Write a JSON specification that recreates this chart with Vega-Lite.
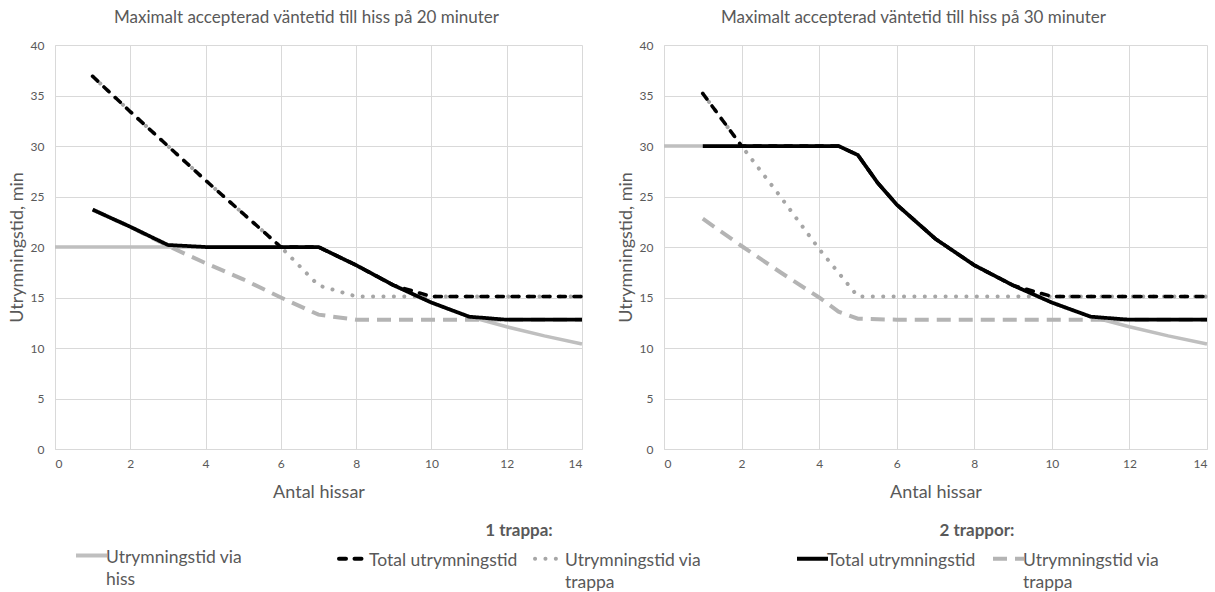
{
  "$schema": "https://vega.github.io/schema/vega-lite/v6.json",
  "autosize": {"type": "pad"},
  "padding": {"left": 8, "top": 9, "right": 0, "bottom": 0},
  "background": "white",
  "data": {"values": [
    {"p":"20","s":"hiss","x":0,"y":20},{"p":"20","s":"hiss","x":1,"y":20},{"p":"20","s":"hiss","x":2,"y":20},{"p":"20","s":"hiss","x":3,"y":20},{"p":"20","s":"hiss","x":4,"y":20},{"p":"20","s":"hiss","x":5,"y":20},{"p":"20","s":"hiss","x":6,"y":20},{"p":"20","s":"hiss","x":7,"y":20},{"p":"20","s":"hiss","x":8,"y":18.2},{"p":"20","s":"hiss","x":9,"y":16.2},{"p":"20","s":"hiss","x":10,"y":14.5},{"p":"20","s":"hiss","x":11,"y":13.1},{"p":"20","s":"hiss","x":12,"y":12.1},{"p":"20","s":"hiss","x":13,"y":11.2},{"p":"20","s":"hiss","x":14,"y":10.4},
    {"p":"20","s":"t1tot","x":1,"y":36.9},{"p":"20","s":"t1tot","x":2,"y":33.4},{"p":"20","s":"t1tot","x":3,"y":30},{"p":"20","s":"t1tot","x":4,"y":26.6},{"p":"20","s":"t1tot","x":5,"y":23.3},{"p":"20","s":"t1tot","x":6,"y":20},{"p":"20","s":"t1tot","x":7,"y":20},{"p":"20","s":"t1tot","x":8,"y":18.2},{"p":"20","s":"t1tot","x":9,"y":16.2},{"p":"20","s":"t1tot","x":10,"y":15.1},{"p":"20","s":"t1tot","x":11,"y":15.1},{"p":"20","s":"t1tot","x":12,"y":15.1},{"p":"20","s":"t1tot","x":13,"y":15.1},{"p":"20","s":"t1tot","x":14,"y":15.1},
    {"p":"20","s":"t1tr","x":1,"y":36.9},{"p":"20","s":"t1tr","x":2,"y":33.4},{"p":"20","s":"t1tr","x":3,"y":30},{"p":"20","s":"t1tr","x":4,"y":26.6},{"p":"20","s":"t1tr","x":5,"y":23.3},{"p":"20","s":"t1tr","x":6,"y":20},{"p":"20","s":"t1tr","x":7,"y":16.2},{"p":"20","s":"t1tr","x":8,"y":15.1},{"p":"20","s":"t1tr","x":9,"y":15.1},{"p":"20","s":"t1tr","x":10,"y":15.1},{"p":"20","s":"t1tr","x":11,"y":15.1},{"p":"20","s":"t1tr","x":12,"y":15.1},{"p":"20","s":"t1tr","x":13,"y":15.1},{"p":"20","s":"t1tr","x":14,"y":15.1},
    {"p":"20","s":"t2tot","x":1,"y":23.7},{"p":"20","s":"t2tot","x":2,"y":22},{"p":"20","s":"t2tot","x":3,"y":20.2},{"p":"20","s":"t2tot","x":4,"y":20},{"p":"20","s":"t2tot","x":5,"y":20},{"p":"20","s":"t2tot","x":6,"y":20},{"p":"20","s":"t2tot","x":7,"y":20},{"p":"20","s":"t2tot","x":8,"y":18.2},{"p":"20","s":"t2tot","x":9,"y":16.2},{"p":"20","s":"t2tot","x":10,"y":14.5},{"p":"20","s":"t2tot","x":11,"y":13.1},{"p":"20","s":"t2tot","x":12,"y":12.8},{"p":"20","s":"t2tot","x":13,"y":12.8},{"p":"20","s":"t2tot","x":14,"y":12.8},
    {"p":"20","s":"t2tr","x":1,"y":23.7},{"p":"20","s":"t2tr","x":2,"y":22},{"p":"20","s":"t2tr","x":3,"y":20.1},{"p":"20","s":"t2tr","x":4,"y":18.4},{"p":"20","s":"t2tr","x":5,"y":16.8},{"p":"20","s":"t2tr","x":6,"y":15},{"p":"20","s":"t2tr","x":7,"y":13.3},{"p":"20","s":"t2tr","x":8,"y":12.8},{"p":"20","s":"t2tr","x":9,"y":12.8},{"p":"20","s":"t2tr","x":10,"y":12.8},{"p":"20","s":"t2tr","x":11,"y":12.8},{"p":"20","s":"t2tr","x":12,"y":12.8},{"p":"20","s":"t2tr","x":13,"y":12.8},{"p":"20","s":"t2tr","x":14,"y":12.8},
    {"p":"30","s":"hiss","x":0,"y":30},{"p":"30","s":"hiss","x":1,"y":30},{"p":"30","s":"hiss","x":2,"y":30},{"p":"30","s":"hiss","x":3,"y":30},{"p":"30","s":"hiss","x":4,"y":30},{"p":"30","s":"hiss","x":4.5,"y":30},{"p":"30","s":"hiss","x":5,"y":29.1},{"p":"30","s":"hiss","x":5.5,"y":26.4},{"p":"30","s":"hiss","x":6,"y":24.2},{"p":"30","s":"hiss","x":7,"y":20.8},{"p":"30","s":"hiss","x":8,"y":18.2},{"p":"30","s":"hiss","x":9,"y":16.2},{"p":"30","s":"hiss","x":10,"y":14.5},{"p":"30","s":"hiss","x":11,"y":13.1},{"p":"30","s":"hiss","x":12,"y":12.1},{"p":"30","s":"hiss","x":13,"y":11.2},{"p":"30","s":"hiss","x":14,"y":10.4},
    {"p":"30","s":"t1tot","x":1,"y":35.2},{"p":"30","s":"t1tot","x":2,"y":30},{"p":"30","s":"t1tot","x":3,"y":30},{"p":"30","s":"t1tot","x":4,"y":30},{"p":"30","s":"t1tot","x":4.5,"y":30},{"p":"30","s":"t1tot","x":5,"y":29.1},{"p":"30","s":"t1tot","x":5.5,"y":26.4},{"p":"30","s":"t1tot","x":6,"y":24.2},{"p":"30","s":"t1tot","x":7,"y":20.8},{"p":"30","s":"t1tot","x":8,"y":18.2},{"p":"30","s":"t1tot","x":9,"y":16.2},{"p":"30","s":"t1tot","x":10,"y":15.1},{"p":"30","s":"t1tot","x":11,"y":15.1},{"p":"30","s":"t1tot","x":12,"y":15.1},{"p":"30","s":"t1tot","x":13,"y":15.1},{"p":"30","s":"t1tot","x":14,"y":15.1},
    {"p":"30","s":"t1tr","x":1,"y":35.2},{"p":"30","s":"t1tr","x":2,"y":30},{"p":"30","s":"t1tr","x":3,"y":25},{"p":"30","s":"t1tr","x":4,"y":19.8},{"p":"30","s":"t1tr","x":5,"y":15.1},{"p":"30","s":"t1tr","x":6,"y":15.1},{"p":"30","s":"t1tr","x":7,"y":15.1},{"p":"30","s":"t1tr","x":8,"y":15.1},{"p":"30","s":"t1tr","x":9,"y":15.1},{"p":"30","s":"t1tr","x":10,"y":15.1},{"p":"30","s":"t1tr","x":11,"y":15.1},{"p":"30","s":"t1tr","x":12,"y":15.1},{"p":"30","s":"t1tr","x":13,"y":15.1},{"p":"30","s":"t1tr","x":14,"y":15.1},
    {"p":"30","s":"t2tot","x":1,"y":30},{"p":"30","s":"t2tot","x":2,"y":30},{"p":"30","s":"t2tot","x":3,"y":30},{"p":"30","s":"t2tot","x":4,"y":30},{"p":"30","s":"t2tot","x":4.5,"y":30},{"p":"30","s":"t2tot","x":5,"y":29.1},{"p":"30","s":"t2tot","x":5.5,"y":26.4},{"p":"30","s":"t2tot","x":6,"y":24.2},{"p":"30","s":"t2tot","x":7,"y":20.8},{"p":"30","s":"t2tot","x":8,"y":18.2},{"p":"30","s":"t2tot","x":9,"y":16.2},{"p":"30","s":"t2tot","x":10,"y":14.5},{"p":"30","s":"t2tot","x":11,"y":13.1},{"p":"30","s":"t2tot","x":12,"y":12.8},{"p":"30","s":"t2tot","x":13,"y":12.8},{"p":"30","s":"t2tot","x":14,"y":12.8},
    {"p":"30","s":"t2tr","x":1,"y":22.8},{"p":"30","s":"t2tr","x":2,"y":20.1},{"p":"30","s":"t2tr","x":3,"y":17.5},{"p":"30","s":"t2tr","x":4,"y":15},{"p":"30","s":"t2tr","x":4.5,"y":13.6},{"p":"30","s":"t2tr","x":5,"y":12.9},{"p":"30","s":"t2tr","x":6,"y":12.8},{"p":"30","s":"t2tr","x":7,"y":12.8},{"p":"30","s":"t2tr","x":8,"y":12.8},{"p":"30","s":"t2tr","x":9,"y":12.8},{"p":"30","s":"t2tr","x":10,"y":12.8},{"p":"30","s":"t2tr","x":11,"y":12.8},{"p":"30","s":"t2tr","x":12,"y":12.8},{"p":"30","s":"t2tr","x":13,"y":12.8},{"p":"30","s":"t2tr","x":14,"y":12.8}
  ]},
  "hconcat": [
    {
      "width": 527, "height": 404,
      "title": {"text": "Maximalt accepterad väntetid till hiss på 20 minuter", "dx": -12},
      "transform": [{"filter": "datum.p === '20'"}],
      "encoding": {
        "x": {"field": "x", "type": "quantitative", "scale": {"domain": [0, 14], "nice": false}, "axis": {"title": "Antal hissar", "values": [0,2,4,6,8,10,12,14]}},
        "y": {"field": "y", "type": "quantitative", "scale": {"domain": [0, 40], "nice": false}, "axis": {"title": "Utrymningstid, min", "values": [0,5,10,15,20,25,30,35,40]}}
      },
      "resolve": {"scale": {"color": "independent", "strokeDash": "independent"}},
      "layer": [
        {
          "transform": [{"filter": "datum.s === 'hiss'"}],
          "mark": {"type": "line", "strokeWidth": 3.5},
          "encoding": {
            "color": {"field": "s", "type": "nominal", "scale": {"domain": ["hiss"], "range": ["#bfbfbf"]},
              "legend": {"title": null, "orient": "none", "legendX": 19, "legendY": 493, "labelExpr": "['Utrymningstid via', 'hiss']", "encode": {"labels": {"update": {"dy": {"value": 7.5}, "lineHeight": {"value": 22}}}}}}
          }
        },
        {
          "encoding": {
            "color": {"field": "s", "type": "nominal", "scale": {"domain": ["t1tot", "t1tr"], "range": ["#000000", "#a6a6a6"]},
              "legend": {"title": "1 trappa:", "orient": "none", "legendX": 282, "legendY": 478, "columns": 2, "labelExpr": "datum.value === 't1tot' ? ['Total utrymningstid', ''] : ['Utrymningstid via', 'trappa']", "encode": {"labels": {"update": {"dy": {"value": 7.5}, "lineHeight": {"value": 22}}}, "symbols": {"update": {"strokeCap": {"value": "round"}}}}}},
            "strokeDash": {"field": "s", "type": "nominal", "scale": {"domain": ["t1tot", "t1tr"], "range": [[7, 8.5], [0.1, 10.3]]},
              "legend": {"title": "1 trappa:", "orient": "none", "legendX": 282, "legendY": 478, "columns": 2, "labelExpr": "datum.value === 't1tot' ? ['Total utrymningstid', ''] : ['Utrymningstid via', 'trappa']", "encode": {"labels": {"update": {"dy": {"value": 7.5}, "lineHeight": {"value": 22}}}, "symbols": {"update": {"strokeCap": {"value": "round"}}}}}}
          },
          "layer": [
            {"transform": [{"filter": "datum.s === 't1tr'"}], "mark": {"type": "line", "strokeWidth": 4, "strokeCap": "round"}},
            {"transform": [{"filter": "datum.s === 't1tot'"}], "mark": {"type": "line", "strokeWidth": 3.5, "strokeCap": "round"}}
          ]
        },
        {
          "encoding": {
            "color": {"field": "s", "type": "nominal", "scale": {"domain": ["t2tot", "t2tr"], "range": ["#000000", "#b4b4b4"]}, "legend": null},
            "strokeDash": {"field": "s", "type": "nominal", "scale": {"domain": ["t2tot", "t2tr"], "range": [[1, 0], [14, 8]]}, "legend": null}
          },
          "layer": [
            {"transform": [{"filter": "datum.s === 't2tr'"}], "mark": {"type": "line", "strokeWidth": 4}},
            {"transform": [{"filter": "datum.s === 't2tot'"}], "mark": {"type": "line", "strokeWidth": 3.75}}
          ]
        }
      ]
    },
    {
      "width": 543, "height": 404,
      "title": {"text": "Maximalt accepterad väntetid till hiss på 30 minuter", "dx": -22},
      "transform": [{"filter": "datum.p === '30'"}],
      "encoding": {
        "x": {"field": "x", "type": "quantitative", "scale": {"domain": [0, 14], "nice": false}, "axis": {"title": "Antal hissar", "values": [0,2,4,6,8,10,12,14]}},
        "y": {"field": "y", "type": "quantitative", "scale": {"domain": [0, 40], "nice": false}, "axis": {"title": "Utrymningstid, min", "values": [0,5,10,15,20,25,30,35,40]}}
      },
      "resolve": {"scale": {"color": "independent", "strokeDash": "independent"}},
      "layer": [
        {
          "transform": [{"filter": "datum.s === 'hiss'"}],
          "mark": {"type": "line", "strokeWidth": 3.5},
          "encoding": {
            "color": {"field": "s", "type": "nominal", "scale": {"domain": ["hiss"], "range": ["#bfbfbf"]}, "legend": null}
          }
        },
        {
          "encoding": {
            "color": {"field": "s", "type": "nominal", "scale": {"domain": ["t1tot", "t1tr"], "range": ["#000000", "#a6a6a6"]}, "legend": null},
            "strokeDash": {"field": "s", "type": "nominal", "scale": {"domain": ["t1tot", "t1tr"], "range": [[7, 8.5], [0.1, 10.3]]}, "legend": null}
          },
          "layer": [
            {"transform": [{"filter": "datum.s === 't1tr'"}], "mark": {"type": "line", "strokeWidth": 4, "strokeCap": "round"}},
            {"transform": [{"filter": "datum.s === 't1tot'"}], "mark": {"type": "line", "strokeWidth": 3.5, "strokeCap": "round"}}
          ]
        },
        {
          "encoding": {
            "color": {"field": "s", "type": "nominal", "scale": {"domain": ["t2tot", "t2tr"], "range": ["#000000", "#b4b4b4"]},
              "legend": {"title": "2 trappor:", "orient": "none", "legendX": 131, "legendY": 478, "columns": 2, "labelExpr": "datum.value === 't2tot' ? ['Total utrymningstid', ''] : ['Utrymningstid via', 'trappa']", "encode": {"labels": {"update": {"dy": {"value": 7.5}, "lineHeight": {"value": 22}}}}}},
            "strokeDash": {"field": "s", "type": "nominal", "scale": {"domain": ["t2tot", "t2tr"], "range": [[1, 0], [14, 8]]},
              "legend": {"title": "2 trappor:", "orient": "none", "legendX": 131, "legendY": 478, "columns": 2, "labelExpr": "datum.value === 't2tot' ? ['Total utrymningstid', ''] : ['Utrymningstid via', 'trappa']", "encode": {"labels": {"update": {"dy": {"value": 7.5}, "lineHeight": {"value": 22}}}}}}
          },
          "layer": [
            {"transform": [{"filter": "datum.s === 't2tr'"}], "mark": {"type": "line", "strokeWidth": 4}},
            {"transform": [{"filter": "datum.s === 't2tot'"}], "mark": {"type": "line", "strokeWidth": 3.75}}
          ]
        }
      ]
    }
  ],
  "spacing": 82,
  "bounds": "flush",
  "resolve": {"scale": {"color": "independent", "strokeDash": "independent"}},
  "config": {
    "view": {"stroke": null},
    "font": "Lato",
    "title": {"font": "Lato", "fontSize": 17, "fontWeight": "normal", "color": "#595959", "anchor": "middle", "offset": 12},
    "axis": {"gridColor": "#d9d9d9", "gridWidth": 1, "domainColor": "#d9d9d9", "tickSize": 0, "labelColor": "#595959", "labelFont": "Lato", "labelFontSize": 12, "titleFont": "Lato", "titleFontSize": 18, "titleFontWeight": "normal", "titleColor": "#595959"},
    "axisX": {"labelPadding": 9, "titlePadding": 14},
    "axisY": {"labelPadding": 11, "titlePadding": 4},
    "legend": {"direction": "horizontal", "symbolType": "stroke", "symbolSize": 961, "symbolStrokeWidth": 4, "labelFont": "Lato", "labelFontSize": 17.5, "labelColor": "#595959", "labelOffset": -3, "columnPadding": 9, "labelLimit": 300, "labelBaseline": "alphabetic", "titleFont": "Lato", "titleFontSize": 17, "titleFontWeight": "bold", "titleColor": "#595959", "titleAnchor": "middle", "titlePadding": 1, "padding": 0}
  }
}
